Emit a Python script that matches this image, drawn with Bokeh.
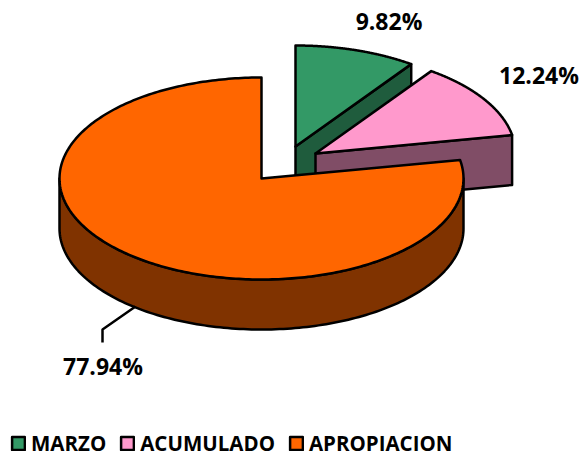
import numpy as np
from bokeh.core.properties import value
from bokeh.embed import file_html
from bokeh.resources import INLINE
from bokeh.plotting import figure
from bokeh.models import Range1d, Legend, LegendItem, ColumnDataSource, LabelSet

categories = ["MARZO", "ACUMULADO", "APROPIACION"]
values = [9.82, 12.24, 77.94]
top_colors = ["#339966", "#FF99CC", "#FF6600"]
side_colors = ["#1F5C3D", "#804D66", "#803300"]

# pie geometry, in the page's pixel space
centers = [(295, 146), (315, 153), (261, 178)]
radii_x = [200, 200, 202]
RY, DEPTH = 101, 50
label_pos = [(388.5, 20.5), (538.5, 74.5), (102.5, 365.5)]
leader_x = [135, 102, 102]
leader_y = [306, 329, 342]
FONT = "Open Sans"

W, H = 581, 457
p = figure(width=W, height=H, output_backend="svg", toolbar_location=None,
           x_range=Range1d(0, W), y_range=Range1d(H, 0),
           min_border=0, outline_line_color=None)
p.axis.visible = False
p.grid.visible = False
p.background_fill_color = "white"
p.border_fill_color = "white"


def rim(i, t0, t1, n=160):
    t = np.radians(np.linspace(t0, t1, n))
    c = centers[i]
    return c[0] + radii_x[i] * np.sin(t), c[1] - RY * np.cos(t)


edges = np.cumsum([0] + values) * 3.6
LW = 2.5
style = dict(line_color="black", line_width=LW, line_join="round")

# MARZO: cut face, then top
c = centers[0]
x, y = rim(0, edges[1], edges[1], 1)
p.patch([c[0], x[0], x[0], c[0]], [c[1], y[0], y[0] + DEPTH, c[1] + DEPTH],
        fill_color=side_colors[0], **style)
x, y = rim(0, edges[0], edges[1])
r0 = p.patch(np.r_[c[0], x], np.r_[c[1], y], fill_color=top_colors[0], **style)

# ACUMULADO: cut face, then top
c = centers[1]
x, y = rim(1, edges[2], edges[2], 1)
p.patch([c[0], x[0], x[0], c[0]], [c[1], y[0], y[0] + DEPTH, c[1] + DEPTH],
        fill_color=side_colors[1], **style)
x, y = rim(1, edges[1], edges[2])
r1 = p.patch(np.r_[c[0], x], np.r_[c[1], y], fill_color=top_colors[1], **style)

# APROPIACION: outer wall, then top
c = centers[2]
x, y = rim(2, 90, 270)
p.patch(np.r_[x, x[::-1]], np.r_[y, y[::-1] + DEPTH], fill_color=side_colors[2], **style)
x, y = rim(2, edges[2], edges[3], 300)
r2 = p.patch(np.r_[c[0], x], np.r_[c[1], y], fill_color=top_colors[2], **style)

p.line(leader_x, leader_y, line_color="black", line_width=LW)

src = ColumnDataSource(dict(x=[q[0] for q in label_pos], y=[q[1] for q in label_pos],
                            t=[f"{v:.2f}%" for v in values]))
p.add_layout(LabelSet(x="x", y="y", text="t", source=src, text_align="center",
                      text_baseline="middle", text_font=value(FONT), text_font_style="bold",
                      text_font_size="23px", text_color="black"))

legend = Legend(items=[LegendItem(label=n, renderers=[r]) for n, r in zip(categories, [r0, r1, r2])],
                orientation="horizontal", location=(10, 0), glyph_width=16, glyph_height=16,
                label_standoff=5, spacing=13, padding=0, margin=0,
                border_line_color=None, background_fill_alpha=0,
                label_text_font=FONT, label_text_font_style="bold",
                label_text_font_size="20.5px", label_text_color="black",
                label_height=16)
p.add_layout(legend, "center")

open("out.html", "w").write(file_html(p, INLINE))
